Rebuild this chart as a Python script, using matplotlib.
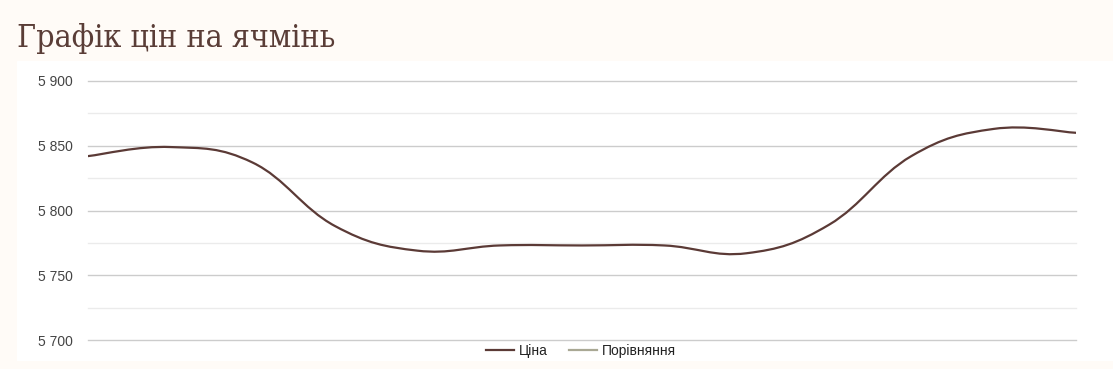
import numpy as np
import matplotlib
matplotlib.use("Agg")
import matplotlib.pyplot as plt
from matplotlib.path import Path
from matplotlib.patches import PathPatch
from matplotlib.lines import Line2D
from matplotlib.ticker import FuncFormatter, MultipleLocator

# price points (equally spaced, no x labels shown)
points = list(range(13))
price = [5842, 5849, 5837, 5788, 5769, 5773, 5773, 5773, 5767, 5789, 5842, 5863, 5860]
comparison = []

y_min, y_max = 5700, 5900
line_color = "#5b3a36"
comp_color = "#a9a894"
cream = "#fffbf7"

plt.rcParams["font.family"] = ["Liberation Sans", "DejaVu Sans"]

fig = plt.figure(figsize=(11.13, 3.69), dpi=100)
fig.patch.set_facecolor(cream)

# white panel behind the chart
bg = fig.add_axes([17 / 1113, 1 - 361 / 369, 1 - 17 / 1113, 300 / 369], zorder=0)
bg.axis("off")
bg.add_patch(plt.Rectangle((0, 0), 1, 1, transform=bg.transAxes, color="white"))

ax = fig.add_axes([88 / 1113, 1 - 340 / 369, (1076 - 88) / 1113, (340 - 81) / 369], zorder=1)
ax.set_facecolor("white")
ax.set_xlim(points[0], points[-1])
ax.set_ylim(y_min, y_max)

# smooth curve through the points (cubic beziers)
k = 1 / 5
x = np.array(points, dtype=float)
y = np.array(price, dtype=float)
verts = [(x[0], y[0])]
codes = [Path.MOVETO]
for i in range(len(x) - 1):
    x0, y0 = (x[i - 1], y[i - 1]) if i > 0 else (x[i], y[i])
    x3, y3 = (x[i + 2], y[i + 2]) if i + 2 < len(x) else (x[i + 1], y[i + 1])
    c1 = (x[i] + (x[i + 1] - x0) * k, y[i] + (y[i + 1] - y0) * k)
    c2 = (x[i + 1] - (x3 - x[i]) * k, y[i + 1] - (y3 - y[i]) * k)
    verts += [c1, c2, (x[i + 1], y[i + 1])]
    codes += [Path.CURVE4] * 3
ax.add_patch(PathPatch(Path(verts, codes), facecolor="none", edgecolor=line_color,
                       lw=1.6, zorder=3, capstyle="round"))
ax.plot(range(len(comparison)), comparison, color=comp_color, lw=1.6)

ax.yaxis.set_major_locator(MultipleLocator(50))
ax.yaxis.set_minor_locator(MultipleLocator(25))
ax.yaxis.set_major_formatter(FuncFormatter(lambda v, p: f"{int(v):,}".replace(",", " ")))
ax.grid(True, which="major", axis="y", color="#cccccc", lw=1)
ax.grid(True, which="minor", axis="y", color="#ebebeb", lw=1)
ax.set_axisbelow(True)
ax.set_xticks([])
ax.tick_params(axis="y", which="both", length=0, pad=11, labelsize=10, labelcolor="#444444")
for s in ax.spines.values():
    s.set_visible(False)
for gl in ax.yaxis.get_gridlines() + ax.yaxis.get_minorticklines():
    gl.set_clip_on(False)
for t in ax.yaxis.get_major_ticks() + ax.yaxis.get_minor_ticks():
    t.gridline.set_clip_on(False)

fig.text(17 / 1113, 1 - 47 / 369, "Графік цін на ячмінь", fontsize=23,
         family="DejaVu Serif", fontstretch="condensed", color="#5a3d37",
         va="baseline", ha="left")

handles = [Line2D([], [], color=line_color, lw=1.6), Line2D([], [], color=comp_color, lw=1.6)]
fig.legend(handles, ["Ціна", "Порівняння"], loc="center", ncol=2,
           bbox_to_anchor=(581 / 1113, 1 - 351 / 369), frameon=False,
           fontsize=10, handlelength=2.0, handletextpad=0.35, columnspacing=1.6,
           labelcolor="#222222")

fig.savefig("out.png", dpi=100, facecolor=cream)
